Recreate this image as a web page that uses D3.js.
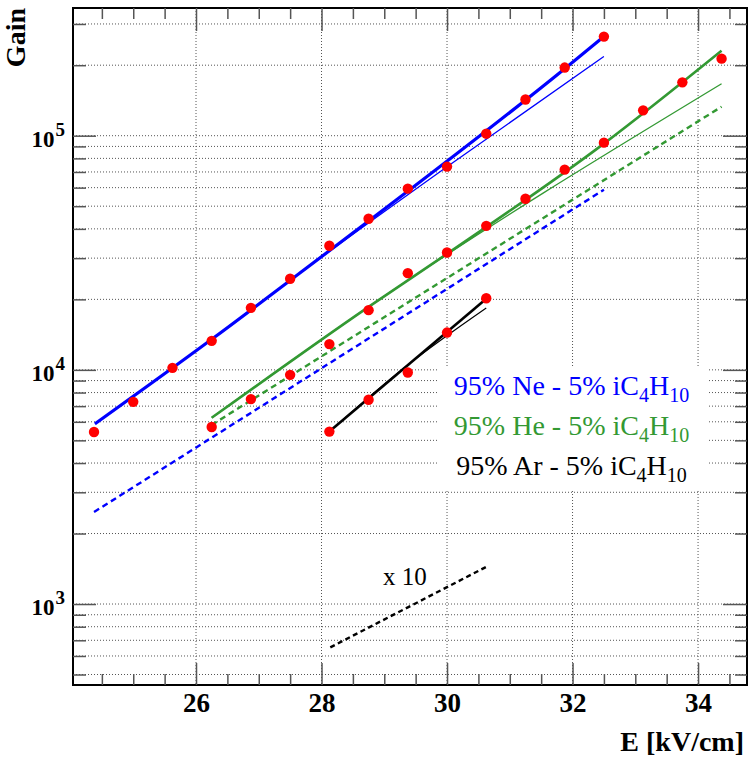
<!DOCTYPE html>
<html>
<head>
<meta charset="utf-8">
<script src="https://cdn.jsdelivr.net/npm/d3@7"></script>
<style>
  body { margin: 0; background: #fff; }
  text { font-family: "Liberation Serif", "Times New Roman", serif; }
  .axis path { display: none; }
  .axis line { stroke: #555; stroke-width: 1.5; }
  .grid line { stroke: #555; stroke-width: 1; stroke-dasharray: 1, 2; }
</style>
</head>
<body>
<div id="chart"></div>
<script>
var svgWidth = 749;
var svgHeight = 757;
var frame = { left: 73, right: 747, top: 8, bottom: 685 };

// measured points (E in kV/cm, gain)
var neE = [24.375, 25.0, 25.625, 26.25, 26.875, 27.5, 28.125, 28.75, 29.375, 30.0, 30.625, 31.25, 31.875, 32.5];
var neGain = [5430, 7300, 10200, 13300, 18400, 24500, 33900, 44200, 59400, 73800, 102000, 142700, 195400, 265000];

var heE = [26.25, 26.875, 27.5, 28.125, 28.75, 29.375, 30.0, 30.625, 31.25, 31.875, 32.5, 33.125, 33.75, 34.375];
var heGain = [5700, 7500, 9520, 12880, 17990, 25880, 31700, 41200, 53800, 71600, 93400, 128300, 169000, 213300];

var arE = [28.125, 28.75, 29.375, 30.0, 30.625];
var arGain = [5450, 7450, 9740, 14430, 20230];

// fitted / computed curves, [E, gain]
var neFit = [[24.39, 5880], [26.25, 13500], [27.66, 25970], [31.875, 193200], [32.5, 265000]];
var neFitThin = [[24.39, 5880], [26.25, 13500], [27.66, 25970], [30.0, 73700], [32.5, 218000]];
var neDashed = [[24.375, 2470], [32.5, 58800]];
var heFit = [[26.25, 6240], [28.75, 18580], [30.0, 31300], [32.5, 92500], [34.375, 230700]];
var heFitThin = [[26.25, 6240], [28.75, 18580], [34.375, 166700]];
var heDashed = [[26.25, 5820], [34.375, 133000]];
var arFit = [[28.125, 5450], [30.625, 20100]];
var arFitThin = [[28.125, 5450], [29.375, 10500], [30.625, 18370]];
var arDashedX10 = [[28.14, 653], [30.63, 1443]];

// ticks
var xMajor = [26, 28, 30, 32, 34];
var xLabels = ["26", "28", "30", "32", "34"];
var yMajor = [1e3, 1e4, 1e5];
var yExp = ["3", "4", "5"];

var legendLabels = ["95% Ne - 5% iC", "95% He - 5% iC", "95% Ar - 5% iC"];
var legendColors = ["#0000ff", "#339933", "#000000"];

var xMinor = d3.range(24.5, 34.6, 0.5).filter(d => d % 2 !== 0);
var yMinor = [];
[100, 1000, 10000, 100000].forEach(function(p) {
  d3.range(2, 10).forEach(function(k) {
    var v = k * p;
    if (v > 451 && v < 351000) yMinor.push(v);
  });
});

var svg = d3.select("#chart")
  .append("svg")
  .attr("width", svgWidth)
  .attr("height", svgHeight);

var xScale = d3.scaleLinear()
  .domain([24.04, 34.78])
  .range([frame.left, frame.right]);

var yScale = d3.scaleLog()
  .domain([451, 351000])
  .range([frame.bottom, frame.top]);

// grid
var grid = svg.append("g").attr("class", "grid");
grid.selectAll(".gx")
  .data(xMajor)
  .enter()
  .append("line")
  .attr("x1", d => xScale(d))
  .attr("x2", d => xScale(d))
  .attr("y1", frame.top)
  .attr("y2", frame.bottom);
grid.selectAll(".gy")
  .data(yMinor.concat(yMajor))
  .enter()
  .append("line")
  .attr("x1", frame.left)
  .attr("x2", frame.right)
  .attr("y1", d => yScale(d))
  .attr("y2", d => yScale(d));

// curves
var line = d3.line()
  .x(d => xScale(d[0]))
  .y(d => yScale(d[1]))
  .curve(d3.curveMonotoneX);

var curves = [
  { data: neFitThin, color: "#0000ff", width: 1.3, dash: null },
  { data: neFit, color: "#0000ff", width: 3.2, dash: null },
  { data: neDashed, color: "#0000ff", width: 2.4, dash: "6,4" },
  { data: heFitThin, color: "#339933", width: 1.3, dash: null },
  { data: heFit, color: "#339933", width: 2.6, dash: null },
  { data: heDashed, color: "#339933", width: 2.4, dash: "6,4" },
  { data: arFitThin, color: "#000000", width: 1.2, dash: null },
  { data: arFit, color: "#000000", width: 2.6, dash: null },
  { data: arDashedX10, color: "#000000", width: 2.4, dash: "5,3.5" }
];

svg.append("g")
  .selectAll("path")
  .data(curves)
  .enter()
  .append("path")
  .attr("d", d => line(d.data))
  .attr("fill", "none")
  .attr("stroke", d => d.color)
  .attr("stroke-width", d => d.width)
  .attr("stroke-dasharray", d => d.dash);

// points
var points = [];
neE.forEach((e, i) => points.push([e, neGain[i]]));
heE.forEach((e, i) => points.push([e, heGain[i]]));
arE.forEach((e, i) => points.push([e, arGain[i]]));

svg.append("g")
  .selectAll("circle")
  .data(points)
  .enter()
  .append("circle")
  .attr("cx", d => xScale(d[0]))
  .attr("cy", d => yScale(d[1]))
  .attr("r", 5.2)
  .attr("fill", "#ff0000");

// legend
svg.append("rect")
  .attr("x", 438)
  .attr("y", 367)
  .attr("width", 269)
  .attr("height", 124)
  .attr("fill", "#fff");

var leg = svg.append("g")
  .selectAll("text")
  .data(legendLabels)
  .enter()
  .append("text")
  .attr("x", 571.5)
  .attr("y", (d, i) => 395 + i * 40)
  .attr("text-anchor", "middle")
  .attr("fill", (d, i) => legendColors[i])
  .style("font-size", "28px");
leg.append("tspan").text(d => d);
leg.append("tspan").attr("dy", 7).style("font-size", "20px").text("4");
leg.append("tspan").attr("dy", -7).text("H");
leg.append("tspan").attr("dy", 7).style("font-size", "20px").text("10");

svg.append("text")
  .attr("x", 383)
  .attr("y", 585)
  .style("font-size", "25px")
  .text("x 10");

// frame
svg.append("rect")
  .attr("x", frame.left)
  .attr("y", frame.top)
  .attr("width", frame.right - frame.left)
  .attr("height", frame.bottom - frame.top)
  .attr("fill", "none")
  .attr("stroke", "#000")
  .attr("stroke-width", 2);

// axes (ticks inward)
function addAxis(axis, transform) {
  svg.append("g")
    .attr("class", "axis")
    .attr("transform", transform)
    .call(axis);
}
addAxis(d3.axisBottom(xScale).tickValues(xMinor).tickSize(-11).tickFormat(""), `translate(0,${frame.bottom})`);
addAxis(d3.axisTop(xScale).tickValues(xMinor).tickSize(-11).tickFormat(""), `translate(0,${frame.top})`);
addAxis(d3.axisTop(xScale).tickValues(xMajor).tickSize(-23).tickFormat(""), `translate(0,${frame.top})`);
addAxis(d3.axisLeft(yScale).tickValues(yMinor).tickSize(-13).tickFormat(""), `translate(${frame.left},0)`);
addAxis(d3.axisLeft(yScale).tickValues(yMajor).tickSize(-23).tickFormat(""), `translate(${frame.left},0)`);
addAxis(d3.axisRight(yScale).tickValues(yMinor).tickSize(-12).tickFormat(""), `translate(${frame.right},0)`);
addAxis(d3.axisRight(yScale).tickValues(yMajor).tickSize(-24).tickFormat(""), `translate(${frame.right},0)`);

var xAxisMajor = d3.axisBottom(xScale)
  .tickValues(xMajor)
  .tickSize(-22)
  .tickPadding(8)
  .tickFormat((d, i) => xLabels[i]);
svg.append("g")
  .attr("class", "axis")
  .attr("transform", `translate(0,${frame.bottom})`)
  .call(xAxisMajor)
  .selectAll("text")
  .style("font-family", "'Liberation Serif', serif")
  .style("font-size", "27px")
  .style("font-weight", "bold")
  .attr("fill", "#000");

// y labels 10^n
var ylab = svg.append("g")
  .selectAll("text")
  .data(yMajor)
  .enter()
  .append("text")
  .attr("x", 65)
  .attr("y", d => yScale(d) + 11)
  .attr("text-anchor", "end")
  .style("font-weight", "bold")
  .style("font-size", "23px");
ylab.append("tspan").text("10");
ylab.append("tspan")
  .attr("dy", -11)
  .attr("dx", 1)
  .style("font-size", "19px")
  .text((d, i) => yExp[i]);

// titles
svg.append("text")
  .attr("transform", `translate(25,${frame.top}) rotate(-90)`)
  .attr("text-anchor", "end")
  .style("font-weight", "bold")
  .style("font-size", "28px")
  .text("Gain");

svg.append("text")
  .attr("x", 744)
  .attr("y", 751)
  .attr("text-anchor", "end")
  .style("font-weight", "bold")
  .style("font-size", "28px")
  .text("E [kV/cm]");
</script>
</body>
</html>
